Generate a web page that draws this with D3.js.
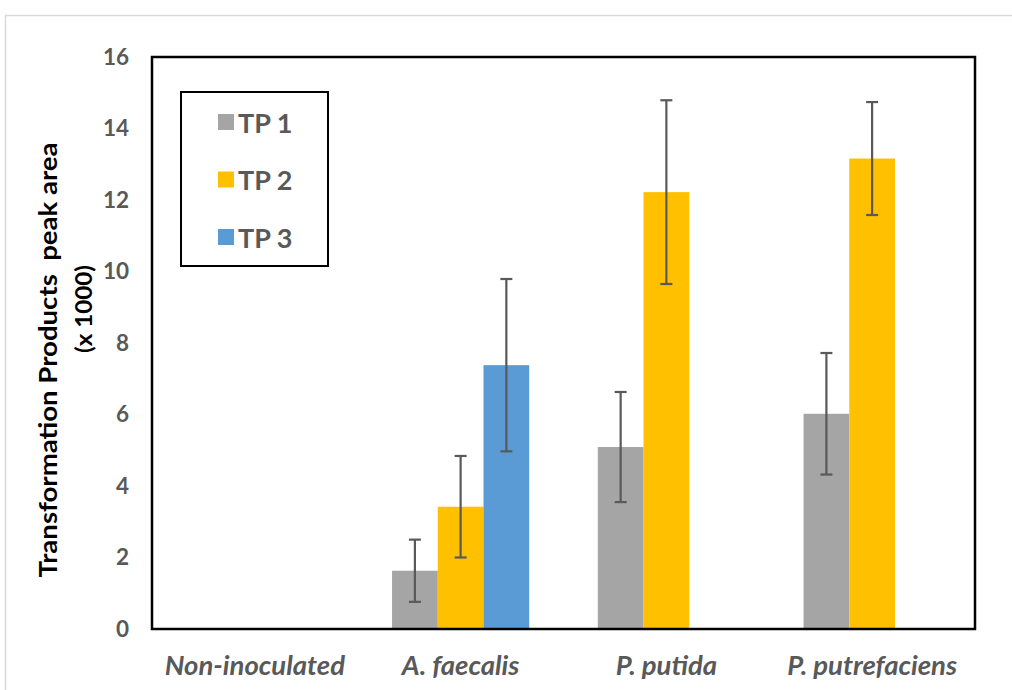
<!DOCTYPE html>
<html>
<head>
<meta charset="utf-8">
<script src="https://cdn.jsdelivr.net/npm/d3@7"></script>
<style>
  html, body { margin: 0; padding: 0; background: #fff; }
  svg { display: block; font-family: Lato, "Open Sans", sans-serif; }
</style>
</head>
<body>
<svg id="chart" width="1012" height="690"></svg>
<script>
// data (peak area x 1000)
const categories = ["Non-inoculated", "A. faecalis", "P. putida", "P. putrefaciens"];
const seriesNames = ["TP 1", "TP 2", "TP 3"];
const tp1 = [null, 1.63, 5.09, 6.02];
const tp2 = [null, 3.42, 12.22, 13.16];
const tp3 = [null, 7.38, null, null];
const tp1Err = [null, 0.87, 1.54, 1.70];
const tp2Err = [null, 1.42, 2.57, 1.58];
const tp3Err = [null, 2.41, null, null];
const yTicks = [0, 2, 4, 6, 8, 10, 12, 14, 16];
const colors = ["#a5a5a5", "#ffc000", "#5b9bd5"];

const values = [tp1, tp2, tp3];
const errors = [tp1Err, tp2Err, tp3Err];

const svg = d3.select("#chart");
const plotL = 152, plotR = 975, plotT = 57, plotB = 629;
const textGray = "#595959";

// outer frame (only top & left visible)
svg.append("path")
  .attr("d", "M5.5,690 V15.5 H1012")
  .attr("fill", "none")
  .attr("stroke", "#d9d9d9")
  .attr("stroke-width", 1.5);

const x0 = d3.scaleBand().domain(categories).range([plotL, plotR]).padding(0);
const bw = x0.bandwidth();
const x1 = d3.scaleBand().domain(seriesNames)
  .range([bw * 0.75 / 4.5, bw * 3.75 / 4.5]).padding(0);
const y = d3.scaleLinear().domain([0, 16]).range([plotB, plotT]);

// bars
const bars = [];
seriesNames.forEach((s, si) => {
  categories.forEach((c, ci) => {
    const v = values[si][ci];
    if (v == null) return;
    bars.push({ cat: c, ser: s, si: si, v: v, e: errors[si][ci] });
  });
});

svg.append("g").selectAll("rect")
  .data(bars)
  .join("rect")
  .attr("x", d => x0(d.cat) + x1(d.ser))
  .attr("y", d => y(d.v))
  .attr("width", x1.bandwidth())
  .attr("height", d => y(0) - y(d.v))
  .attr("fill", d => colors[d.si]);

// error bars
const eg = svg.append("g")
  .attr("stroke", "#595959")
  .attr("stroke-width", 2.2)
  .attr("fill", "none");
bars.filter(d => d.e != null).forEach(d => {
  const cx = x0(d.cat) + x1(d.ser) + x1.bandwidth() / 2;
  const y1 = y(d.v + d.e), y2 = y(d.v - d.e);
  eg.append("line").attr("x1", cx).attr("x2", cx).attr("y1", y1).attr("y2", y2);
  eg.append("line").attr("x1", cx - 6).attr("x2", cx + 6).attr("y1", y1).attr("y2", y1);
  eg.append("line").attr("x1", cx - 6).attr("x2", cx + 6).attr("y1", y2).attr("y2", y2);
});

// plot border
svg.append("rect")
  .attr("x", plotL).attr("y", plotT)
  .attr("width", plotR - plotL).attr("height", plotB - plotT)
  .attr("fill", "none")
  .attr("stroke", "#000")
  .attr("stroke-width", 2.5);

// y axis labels (no tick marks)
const yAxis = svg.append("g")
  .attr("transform", `translate(${plotL},0)`)
  .call(d3.axisLeft(y).tickValues(yTicks).tickSize(0).tickPadding(23));
yAxis.select(".domain").remove();
yAxis.selectAll("text")
  .attr("fill", textGray)
  .style("font-size", "22.5px")
  .style("font-weight", "bold")
  .style("font-family", "Lato, sans-serif");

// x axis labels
const xAxis = svg.append("g")
  .attr("transform", `translate(0,${plotB})`)
  .call(d3.axisBottom(x0).tickSize(0).tickPadding(26));
xAxis.select(".domain").remove();
xAxis.selectAll("text")
  .attr("fill", textGray)
  .attr("dy", "0.71em")
  .style("font-size", "27.5px")
  .style("font-weight", "bold")
  .style("font-style", "italic")
  .style("font-family", "Lato, sans-serif");

// y axis title
svg.append("text")
  .attr("transform", "translate(47,360) rotate(-90)")
  .attr("text-anchor", "middle")
  .attr("dominant-baseline", "central")
  .style("font-size", "24px")
  .style("font-weight", "bold")
  .style("white-space", "pre")
  .attr("fill", "#000")
  .attr("textLength", 435)
  .attr("lengthAdjust", "spacingAndGlyphs")
  .text("Transformation Products  peak area");

svg.append("text")
  .attr("transform", "translate(83,309) rotate(-90)")
  .attr("text-anchor", "middle")
  .attr("dominant-baseline", "central")
  .style("font-size", "22px")
  .style("font-weight", "bold")
  .attr("fill", "#000")
  .attr("textLength", 88)
  .attr("lengthAdjust", "spacingAndGlyphs")
  .text("(x 1000)");

// legend
const legend = svg.append("g");
legend.append("rect")
  .attr("x", 181).attr("y", 92)
  .attr("width", 147).attr("height", 174)
  .attr("fill", "#fff")
  .attr("stroke", "#000")
  .attr("stroke-width", 2);

const legY = d3.scalePoint().domain(seriesNames).range([122, 237]);
seriesNames.forEach((s, i) => {
  legend.append("rect")
    .attr("x", 218).attr("y", legY(s) - 8)
    .attr("width", 16).attr("height", 16)
    .attr("fill", colors[i]);
  legend.append("text")
    .attr("x", 238).attr("y", legY(s))
    .attr("dominant-baseline", "central")
    .attr("fill", textGray)
    .style("font-size", "27px")
    .style("font-weight", "bold")
    .text(s);
});
</script>
</body>
</html>
